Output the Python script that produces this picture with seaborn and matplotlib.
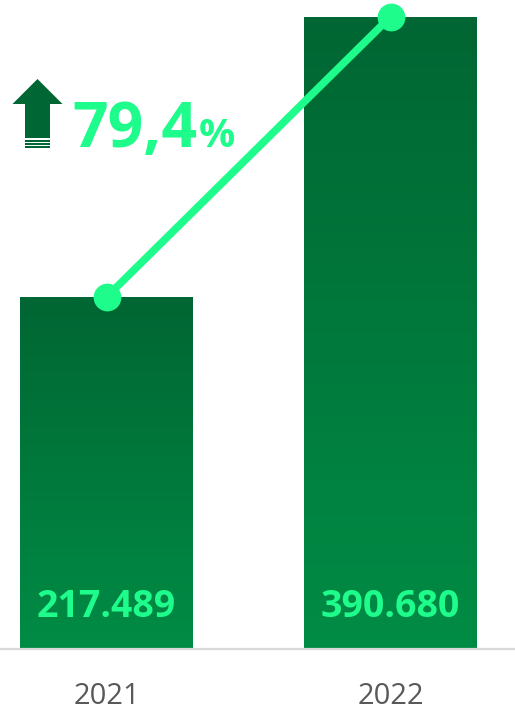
import matplotlib

matplotlib.use("Agg")

import numpy as np
import matplotlib.pyplot as plt
from matplotlib.colors import LinearSegmentedColormap
from matplotlib.patches import Polygon, Rectangle
import seaborn as sns

# data
years = ["2021", "2022"]
values = [217.489, 390.680]
value_labels = ["217.489", "390.680"]
growth_label = "79,4"

BAR_TOP = "#006633"
BAR_BOTTOM = "#008c45"
ACCENT = "#1efc8c"

sns.set_theme(style="white")
plt.rcParams["font.family"] = ["Open Sans", "DejaVu Sans"]

W, H = 515, 713
fig = plt.figure(figsize=(W / 100, H / 100), dpi=100)
ax = fig.add_axes([0, 64 / H, 1, 649 / H])

sns.barplot(x=years, y=values, width=0.609, color=BAR_BOTTOM,
            saturation=1, ax=ax, zorder=2)

# vertical gradient on each bar
cmap = LinearSegmentedColormap.from_list("bar", [BAR_BOTTOM, BAR_TOP])
grad = np.linspace(0, 1, 256).reshape(-1, 1)
for bar in ax.patches:
    x0, y0 = bar.get_x(), bar.get_y()
    w, h = bar.get_width(), bar.get_height()
    im = ax.imshow(grad, cmap=cmap, aspect="auto", origin="lower",
                   extent=[x0, x0 + w, y0, y0 + h], zorder=2.5)
    im.set_clip_path(bar)

# connecting line with dots
sns.lineplot(x=np.arange(len(values)), y=values, color=ACCENT, lw=5.5,
             marker="o", markersize=20, markeredgewidth=0, ax=ax, zorder=4)

for i, lab in enumerate(value_labels):
    ax.text(i, 19.8, lab, ha="center", va="baseline", fontsize=27,
            fontweight="bold", color=ACCENT, zorder=5)

ax.set_xlim(-0.375, 1.438)
ax.set_ylim(0, 401)
ax.set_yticks([])
ax.tick_params(axis="x", length=0, pad=24, labelsize=21, labelcolor="#595959")
for s in ["top", "left", "right"]:
    ax.spines[s].set_visible(False)
ax.spines["bottom"].set_color("#d9d9d9")
ax.spines["bottom"].set_linewidth(1.6)
ax.set_xlabel("")
ax.set_ylabel("")

# growth annotation (pixel positions converted to figure fraction)
def fp(x, y):
    return (x / W, (H - y) / H)

fig.text(*fp(72, 147), growth_label, fontsize=45, fontweight="bold",
         color=ACCENT, ha="left", va="baseline")
fig.text(*fp(199, 147), "%", fontsize=29, fontweight="bold",
         color=ACCENT, ha="left", va="baseline")

arrow = [fp(37.5, 79), fp(62.5, 104), fp(50, 104), fp(50, 138),
         fp(25, 138), fp(25, 104), fp(12.5, 104)]
fig.patches.append(Polygon(arrow, closed=True, facecolor=BAR_TOP, lw=0,
                           transform=fig.transFigure, figure=fig))
for yt in [140, 143, 146]:
    fig.patches.append(Rectangle(fp(25, yt + 2), 25 / W, 2 / H,
                                 facecolor=BAR_TOP, lw=0,
                                 transform=fig.transFigure,
                                 figure=fig, antialiased=False))

fig.savefig("out.png", dpi=100)
